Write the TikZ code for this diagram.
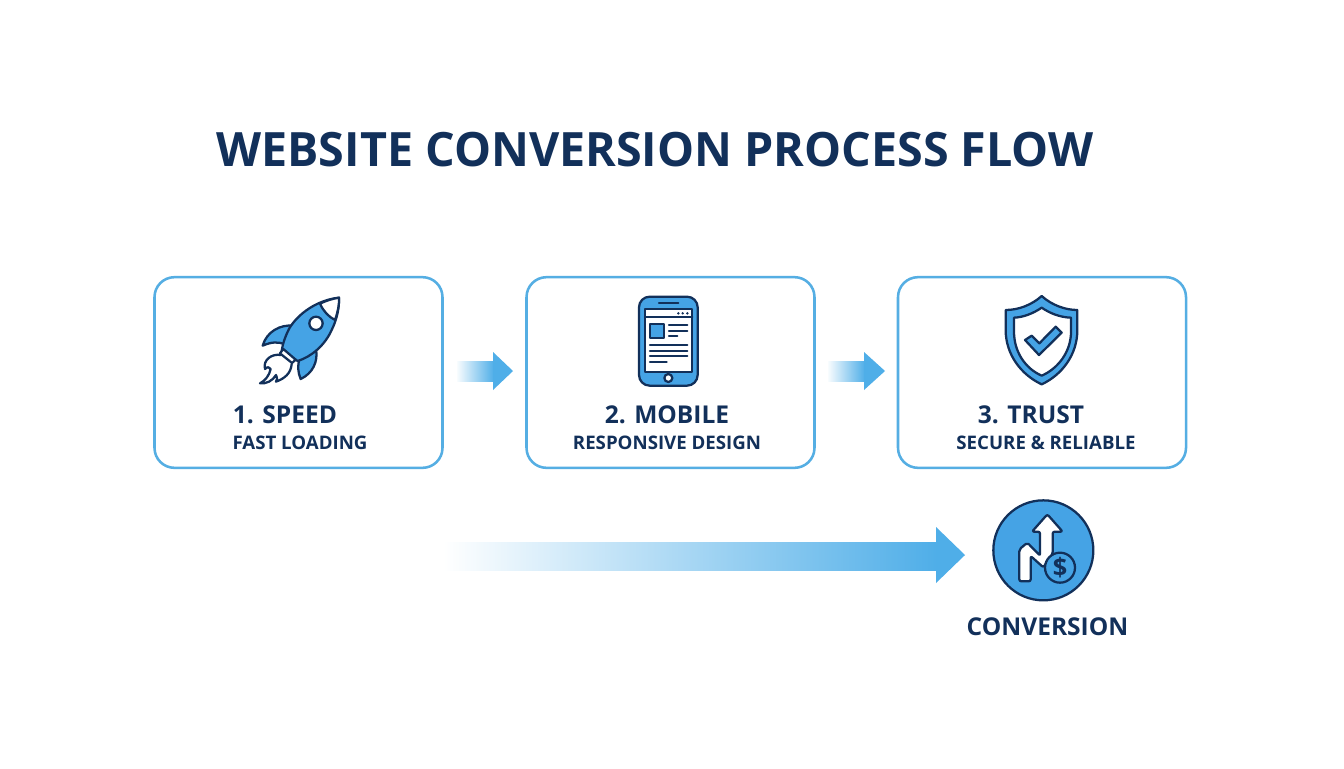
\documentclass[tikz,border=0pt]{standalone}
\usepackage{fontspec}
\setmainfont{Open Sans}
\newfontfamily\ttlfont{Open Sans}[FakeStretch=0.985]
\usetikzlibrary{fadings}
\definecolor{navy}{HTML}{12305A}
\definecolor{skyb}{HTML}{4FAEE8}
\definecolor{iconb}{HTML}{45A3E5}
\definecolor{cardb}{HTML}{55AEE3}
\tikzset{
 x=0.75pt,y=-0.75pt,
 card/.style={draw=cardb,line width=1.9pt,rounded corners=15pt,fill=white},
 ttl/.style={font=\fontsize{35.5}{40}\ttlfont\bfseries,text=navy,inner sep=0},
 head/.style={font=\fontsize{18.4}{22}\selectfont\bfseries,text=navy,inner sep=0},
 sub/.style={font=\fontsize{14}{16}\selectfont\bfseries,text=navy,inner sep=0},
 ico/.style={draw=navy,line width=1.7pt,line join=round,line cap=round},
 gshaft/.style={left color=skyb!4,right color=skyb,draw=none},
 ghead/.style={fill=skyb,draw=none},
}
\begin{document}
\begin{tikzpicture}
\useasboundingbox (0,0) rectangle (1344,768);
\fill[white] (0,0) rectangle (1344,768);
\node[ttl] (title) at (655,149.5) {WEBSITE CONVERSION PROCESS FLOW};
\node[card,minimum width=216pt,minimum height=143pt] (c1) at (298.5,372.5) {};
\node[card,minimum width=216pt,minimum height=143pt] (c2) at (670.5,372.5) {};
\node[card,minimum width=216pt,minimum height=143pt] (c3) at (1042,372.5) {};
\node[head] (h1) at (285,414.5) {1. SPEED};
\node[sub] (s1) at (300,442.5) {FAST LOADING};
\node[head] (h2) at (667,414.5) {2. MOBILE};
\node[sub] (s2) at (667,442.5) {RESPONSIVE DESIGN};
\node[head] (h3) at (1031,414.5) {3. TRUST};
\node[sub] (s3) at (1046,442.5) {SECURE \& RELIABLE};
\node[head] (conv) at (1047.5,626.5) {CONVERSION};
% small arrows
\shade[gshaft] (457,361) rectangle (494,381);
\fill[ghead] (493,352) -- (513,371) -- (493,390) -- cycle;
\shade[gshaft] (828,361) rectangle (865,381);
\fill[ghead] (864,352) -- (885,371) -- (864,390) -- cycle;
% big arrow
\shade[gshaft,left color=white] (443,542) rectangle (937,570);
\fill[ghead] (936,527) -- (965,555) -- (936,583) -- cycle;
% rocket
\begin{scope}[shift={(230,285)},scale=1/3]
 \draw[ico,fill=iconb] (190,122) .. controls (150,118) and (110,140) .. (98,182) .. controls (125,170) and (145,170) .. (165,178) -- cycle;
 \draw[ico,fill=iconb] (258,192) .. controls (265,230) and (248,265) .. (212,282) .. controls (203,262) and (203,240) .. (208,222) -- cycle;
 \draw[ico,fill=white] (153,210) .. controls (125,205) and (98,225) .. (105,252) .. controls (112,245) and (118,245) .. (122,252) .. controls (118,272) and (105,287) .. (90,295) .. controls (110,297) and (128,287) .. (138,270) .. controls (142,280) and (142,285) .. (138,290) .. controls (165,280) and (182,265) .. (185,238);
 \draw[ico,fill=iconb] (327,38) .. controls (262,45) and (205,85) .. (178,130) .. controls (165,155) and (158,178) .. (155,197) -- (203,228) .. controls (245,215) and (285,180) .. (305,135) .. controls (320,105) and (328,70) .. (327,38) -- cycle;
 \draw[ico,fill=white] (327,38) .. controls (308,41) and (288,47) .. (270,56) .. controls (280,78) and (295,95) .. (315,105) .. controls (323,82) and (328,60) .. (327,38) -- cycle;
 \draw[ico,fill=white] (258,115) circle (20);
 \draw[ico,fill=white] (160,192) -- (197,224) -- (186,234) -- (150,205) -- cycle;
\end{scope}
% phone
\begin{scope}[shift={(620,285)},scale=1/3]
 \draw[ico,fill=iconb,rounded corners=8pt] (57,35) rectangle (233,302);
 \draw[ico,fill=white] (75,73) rectangle (217,260);
 \draw[ico] (75,97) -- (217,97);
 \draw[ico] (117,54) -- (175,54);
 \fill[navy] (175,85) circle (4) (188,85) circle (4) (202,85) circle (4);
 \draw[ico,fill=iconb] (90,118) rectangle (133,158);
 \foreach \yy/\xa/\xb in {120/147/202,137/147/202,154/147/172,180/90/202,197/90/202,214/90/202,232/90/140}
  \draw[ico] (\xa,\yy) -- (\xb,\yy);
 \draw[ico,fill=white] (145,279) circle (12);
\end{scope}
% shield
\begin{scope}[shift={(990,285)},scale=1/3]
 \draw[ico,fill=iconb] (155,33) .. controls (185,60) and (225,75) .. (262,75) -- (262,135) .. controls (262,210) and (215,270) .. (155,298) .. controls (95,270) and (47,210) .. (47,135) -- (47,75) .. controls (85,75) and (125,60) .. (155,33) -- cycle;
 \draw[ico,fill=white] (155,68) .. controls (180,85) and (210,97) .. (243,98) -- (243,140) .. controls (243,200) and (205,250) .. (155,272) .. controls (105,250) and (72,200) .. (72,140) -- (72,98) .. controls (100,97) and (130,85) .. (155,68) -- cycle;
 \draw[ico,fill=iconb] (105,165) -- (125,152) -- (148,175) -- (197,125) -- (215,143) -- (147,210) -- cycle;
\end{scope}
% conversion icon
\begin{scope}[shift={(980,490)},scale=1/3]
 \draw[ico,fill=iconb] (190,181) circle (150);
 \draw[ico,fill=white,rounded corners=1.5pt] (118,274) -- (118,178) -- (142,158) -- (180,197) -- (180,125) -- (156,125) -- (202,73) -- (248,125) -- (218,125) -- (218,192) -- (190,232) -- (152,198) -- (152,274) -- cycle;
 \draw[ico,fill=iconb] (240,233) circle (45);
 \node[font=\fontsize{19}{20}\selectfont\bfseries,text=navy,inner sep=0] (dollar) at (240,233) {\$};
\end{scope}
\end{tikzpicture}
\end{document}
